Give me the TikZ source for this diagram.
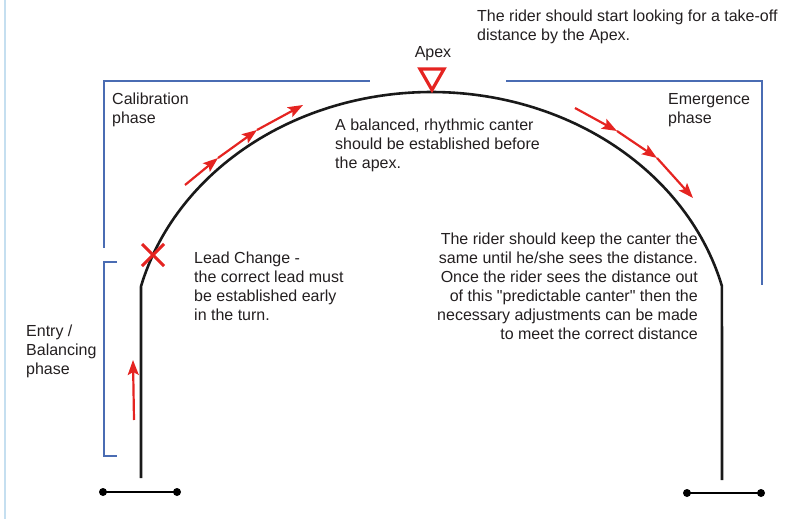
\documentclass[tikz,border=0pt]{standalone}
\usepackage{fontspec}
\setmainfont{Liberation Sans}
\usetikzlibrary{arrows.meta,calc}
\newcommand\strq{\XeTeXglyph\XeTeXcharglyph"22\relax}
\definecolor{txt}{HTML}{231F20}
\definecolor{rd}{HTML}{E52421}
\definecolor{bl}{HTML}{4A6CB3}
\definecolor{edge}{HTML}{C5DFF0}
\tikzset{
  lbl/.style={font=\fontsize{16}{19}\selectfont, text=txt, inner sep=0pt},
  track/.style={line width=2.6pt, black!90},
  brk/.style={line width=1.2pt, bl},
  redarr/.style={line width=2.2pt, rd, -{Stealth[length=15pt,width=11pt,inset=3pt]}},
  dotbar/.style={line width=1.3pt, black},
}
\begin{document}
\begin{tikzpicture}[x=1pt,y=-1pt]
\useasboundingbox (0,0) rectangle (793,519);
% left page edge
\draw[edge, line width=2pt] (5,0) -- (5,519);
% track
\coordinate (lb) at (141,478);
\coordinate (lt) at (141,287);
\coordinate (rt) at (722,287);
\coordinate (rb) at (722,480);
\draw[track, line join=round] (lb) -- (lt)
  -- plot[domain=194.5:345.5, samples=120] ({431.5+300*cos(\x)},{351+259*sin(\x)})
  -- (rb);
% brackets
\coordinate (c1) at (104,248); \coordinate (c2) at (104,81); \coordinate (c3) at (370,81);
\draw[brk] (c1) -- (c2) -- (c3);
\coordinate (e1) at (506,81); \coordinate (e2) at (762,81); \coordinate (e3) at (762,285);
\draw[brk] (e1) -- (e2) -- (e3);
\coordinate (b1) at (117,262); \coordinate (b2) at (104,262); \coordinate (b3) at (104,456); \coordinate (b4) at (117,456);
\draw[brk] (b1) -- (b2) -- (b3) -- (b4);
% bottom bars
\coordinate (l1) at (103,492); \coordinate (l2) at (177,492);
\coordinate (r1) at (687,493); \coordinate (r2) at (761,493);
\draw[dotbar] (l1) -- (l2);
\draw[dotbar] (r1) -- (r2);
\foreach \p in {l1,l2,r1,r2} \fill (\p) circle (4);
% lead change X
\coordinate (x0) at (153,255);
\draw[rd, line width=3pt] ($(x0)+(-11,-11)$) -- ($(x0)+(11,11)$);
\draw[rd, line width=3pt] ($(x0)+(-11,11)$) -- ($(x0)+(11,-11)$);
% apex triangle
\coordinate (t1) at (420,69); \coordinate (t2) at (444,69); \coordinate (t3) at (432,90);
\draw[rd, line width=3.2pt, line join=miter] (t1) -- (t2) -- (t3) -- cycle;
% red arrows
\coordinate (v0) at (134,420); \coordinate (v1) at (133,360);
\draw[redarr] (v0) -- (v1);
\coordinate (a0) at (185,185); \coordinate (a1) at (218,158); \coordinate (a2) at (257,130); \coordinate (a3) at (303,105);
\draw[redarr] (a0) -- (a1);
\draw[redarr] (a1) -- (a2);
\draw[redarr] (a2) -- (a3);
\coordinate (m0) at (575,108); \coordinate (m1) at (617,131); \coordinate (m2) at (657,158); \coordinate (m3) at (693,198);
\draw[redarr] (m0) -- (m1);
\draw[redarr] (m1) -- (m2);
\draw[redarr] (m2) -- (m3);
% texts (anchor base = baseline of last line)
\node[lbl, anchor=base west, align=left] (top) at (477,41) {The rider should start looking for a take-off\\distance by the Apex.};
\node[lbl, anchor=base] (apex) at (433,58) {Apex};
\node[lbl, anchor=base west, align=left] (cal) at (112,124) {Calibration\\phase};
\node[lbl, anchor=base west, align=left] (emg) at (668,124) {Emergence\\phase};
\node[lbl, anchor=base west, align=left] (bal) at (335,168) {A balanced, rhythmic canter\\should be established before\\the apex.};
\node[lbl, anchor=base west, align=left] (lead) at (194,320) {Lead Change -\\the correct lead must\\be established early\\in the turn.};
\node[lbl, anchor=base east, align=right] (keep) at (698,339) {The rider should keep the canter the\\same until he/she sees the distance.\\Once the rider sees the distance out\\of this \strq predictable canter\strq\ then the\\necessary adjustments can be made\\to meet the correct distance};
\node[lbl, anchor=base west, align=left] (entry) at (26,374) {Entry /\\Balancing\\phase};
\end{tikzpicture}
\end{document}
